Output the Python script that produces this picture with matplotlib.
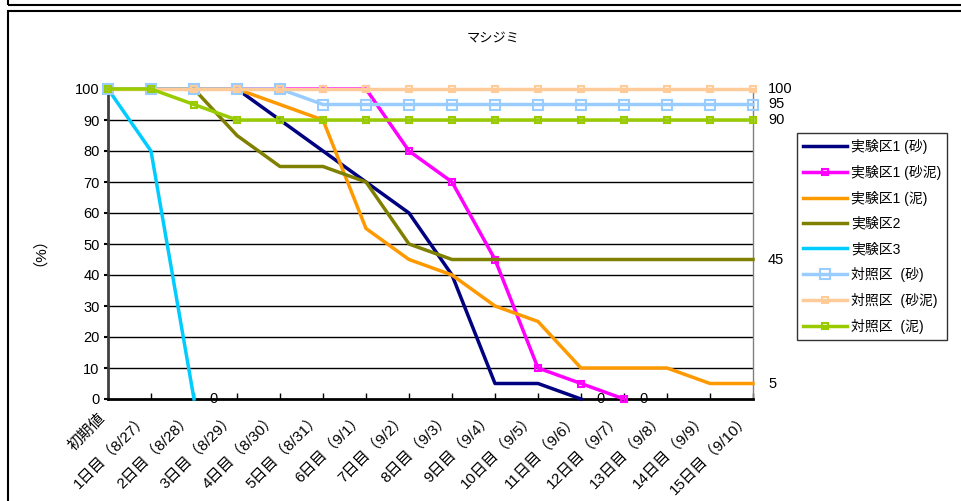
import matplotlib
matplotlib.use("Agg")
import matplotlib.pyplot as plt
import matplotlib.transforms as mtransforms
from matplotlib.patches import Rectangle

plt.rcParams['font.family'] = ['Liberation Sans', 'Noto Sans CJK JP']

days = ["初期値", "1日目（8/27）", "2日目（8/28）", "3日目（8/29）", "4日目（8/30）",
        "5日目（8/31）", "6日目（9/1）", "7日目（9/2）", "8日目（9/3）", "9日目（9/4）",
        "10日目（9/5）", "11日目（9/6）", "12日目（9/7）", "13日目（9/8）",
        "14日目（9/9）", "15日目（9/10）"]

exp1_sand = [100, 100, 100, 100, 90, 80, 70, 60, 40, 5, 5, 0]
exp1_sandmud = [100, 100, 100, 100, 100, 100, 100, 80, 70, 45, 10, 5, 0]
exp1_mud = [100, 100, 100, 100, 95, 90, 55, 45, 40, 30, 25, 10, 10, 10, 5, 5]
exp2 = [100, 100, 100, 85, 75, 75, 70, 50, 45, 45, 45, 45, 45, 45, 45, 45]
exp3 = [100, 80, 0]
ctrl_sand = [100, 100, 100, 100, 100, 95, 95, 95, 95, 95, 95, 95, 95, 95, 95, 95]
ctrl_sandmud = [100] * 16
ctrl_mud = [100, 100, 95, 90, 90, 90, 90, 90, 90, 90, 90, 90, 90, 90, 90, 90]

# label, values, colour, marker, marker size
series = [
    ("実験区1 (砂)", exp1_sand, "#000080", None, 0),
    ("実験区1 (砂泥)", exp1_sandmud, "#FF00FF", "s", 4),
    ("実験区1 (泥)", exp1_mud, "#FF9900", None, 0),
    ("実験区2", exp2, "#808000", None, 0),
    ("実験区3", exp3, "#00CCFF", None, 0),
    ("対照区  (砂)", ctrl_sand, "#99CCFF", "s", 7),
    ("対照区  (砂泥)", ctrl_sandmud, "#FFCC99", "s", 4),
    ("対照区  (泥)", ctrl_mud, "#99CC00", "s", 4),
]

W, H = 961, 501
fig = plt.figure(figsize=(W / 100, H / 100), dpi=100)

# chart frames
fig.patches.append(Rectangle((8 / W, (H - 4.5) / H), 2, 1, transform=fig.transFigure,
                             fill=False, ec="black", lw=1.5))
fig.patches.append(Rectangle((8 / W, -1), 2, (H - 11) / H + 1, transform=fig.transFigure,
                             fill=False, ec="black", lw=1.5))

x0, x1, y0, y1 = 108, 753, 399, 89
ax = fig.add_axes([x0 / W, (H - y0) / H, (x1 - x0) / W, (y0 - y1) / H])

for label, vals, color, marker, ms in series:
    xs = range(len(vals))
    ax.plot(xs, vals, color=color, lw=2.5, marker=marker, ms=ms,
            mfc="none", mec=color, mew=1.5, label=label, clip_on=False, zorder=3)

# value labels at line ends
end_labels = [exp3, exp1_sand, exp1_sandmud, ctrl_sandmud, ctrl_sand, ctrl_mud, exp2, exp1_mud]
for vals in end_labels:
    ax.annotate(f"{vals[-1]}", (len(vals) - 1, vals[-1]), xytext=(15, 0),
                textcoords="offset pixels", va="center", ha="left", fontsize=10.5)

ax.set_xlim(0, 15)
ax.set_ylim(0, 100)
ax.set_yticks(range(0, 101, 10))
ax.set_xticks(range(len(days)))
ax.set_xticklabels([])

# slanted category labels, set a little left of and below each tick
lab_tf = ax.get_xaxis_transform() + mtransforms.ScaledTranslation(-10 / 100, -12 / 100,
                                                                    fig.dpi_scale_trans)
for i, d in enumerate(days):
    ax.text(i, 0, d, transform=lab_tf, rotation=45, rotation_mode="anchor",
            ha="right", va="top", fontsize=11, clip_on=False)

ax.tick_params(axis="x", direction="in", length=4, width=1)
ax.tick_params(axis="y", direction="out", length=3, width=1.5, labelsize=10.5, pad=3)
for y in range(10, 100, 10):
    ax.axhline(y, color="black", lw=1, zorder=1)

ax.spines["top"].set_visible(False)
ax.spines["left"].set_color("#404040")
ax.spines["left"].set_linewidth(2)
ax.spines["bottom"].set_linewidth(2)
ax.spines["right"].set_color("#808080")
ax.spines["right"].set_linewidth(1)

ax.set_ylabel("（%）", fontsize=11, labelpad=26)
fig.text(493 / W, 1 - 38 / H, "マシジミ", ha="center", va="center", fontsize=9.5)

handles, labels = ax.get_legend_handles_labels()
leg = fig.legend(handles, labels, loc="upper left", bbox_to_anchor=(797 / W, 1 - 133 / H),
                 frameon=True, fancybox=False, edgecolor="black", fontsize=10,
                 handlelength=3.2, handletextpad=0.3, labelspacing=0.8,
                 borderpad=0.4, borderaxespad=0)
leg.get_frame().set_linewidth(1)

fig.savefig("out.png", dpi=100)
